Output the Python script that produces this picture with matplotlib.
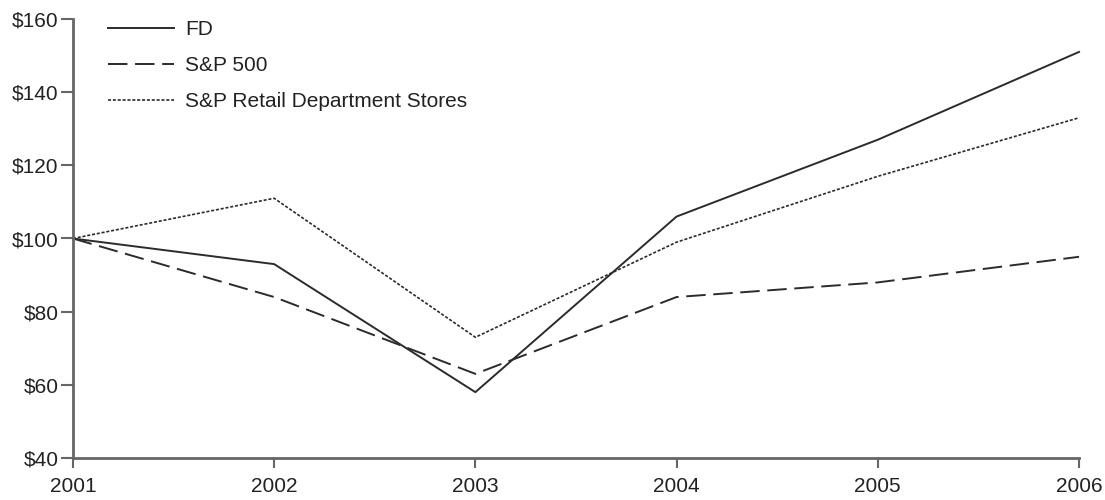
import matplotlib.pyplot as plt

# Data
##################################################################
years = [2001, 2002, 2003, 2004, 2005, 2006]
fd = [100, 93, 58, 106, 127, 151]
sp500 = [100, 84, 63, 84, 88, 95]
sp_retail = [100, 111, 73, 99, 117, 133]

y_ticks = [40, 60, 80, 100, 120, 140, 160]
y_labels = ["$%d" % v for v in y_ticks]

# Plot
##################################################################
plt.rcParams['font.family'] = ['Liberation Sans', 'DejaVu Sans']
plt.rcParams['lines.scale_dashes'] = False

fig = plt.figure(figsize=(11.05, 5.0), dpi=100)
ax = fig.add_axes([0.066, 0.084, 0.9105, 0.878])

line_col = "#2b2b2b"
ax.plot(years, fd, color=line_col, lw=1.4, label="FD", clip_on=False)
ax.plot(years, sp500, color=line_col, lw=1.4, dashes=(14, 5.5),
        label="S&P 500", clip_on=False)
ax.plot(years, sp_retail, color=line_col, lw=1.2, dashes=(2.2, 1.3),
        label="S&P Retail Department Stores", clip_on=False)

ax.set_xlim(2001, 2006)
ax.set_ylim(40, 160)
ax.set_xticks(years)
ax.set_xticklabels([str(y) for y in years])
ax.set_yticks(y_ticks)
ax.set_yticklabels(y_labels)

for side in ["top", "right"]:
    ax.spines[side].set_visible(False)
for side in ["left", "bottom"]:
    ax.spines[side].set_color("#666666")
    ax.spines[side].set_linewidth(2)

ax.tick_params(axis="both", colors="#666666", width=1.5,
               labelsize=15, labelcolor="#222222")
ax.tick_params(axis="x", length=7, pad=7)
ax.tick_params(axis="y", length=8.5, pad=2)

leg = ax.legend(loc="upper left", bbox_to_anchor=(0.016, 1.04), frameon=False,
                fontsize=15, handlelength=3.2, handletextpad=0.5,
                labelspacing=0.82)
for t in leg.get_texts():
    t.set_color("#222222")

plt.savefig("out.png", dpi=100)
